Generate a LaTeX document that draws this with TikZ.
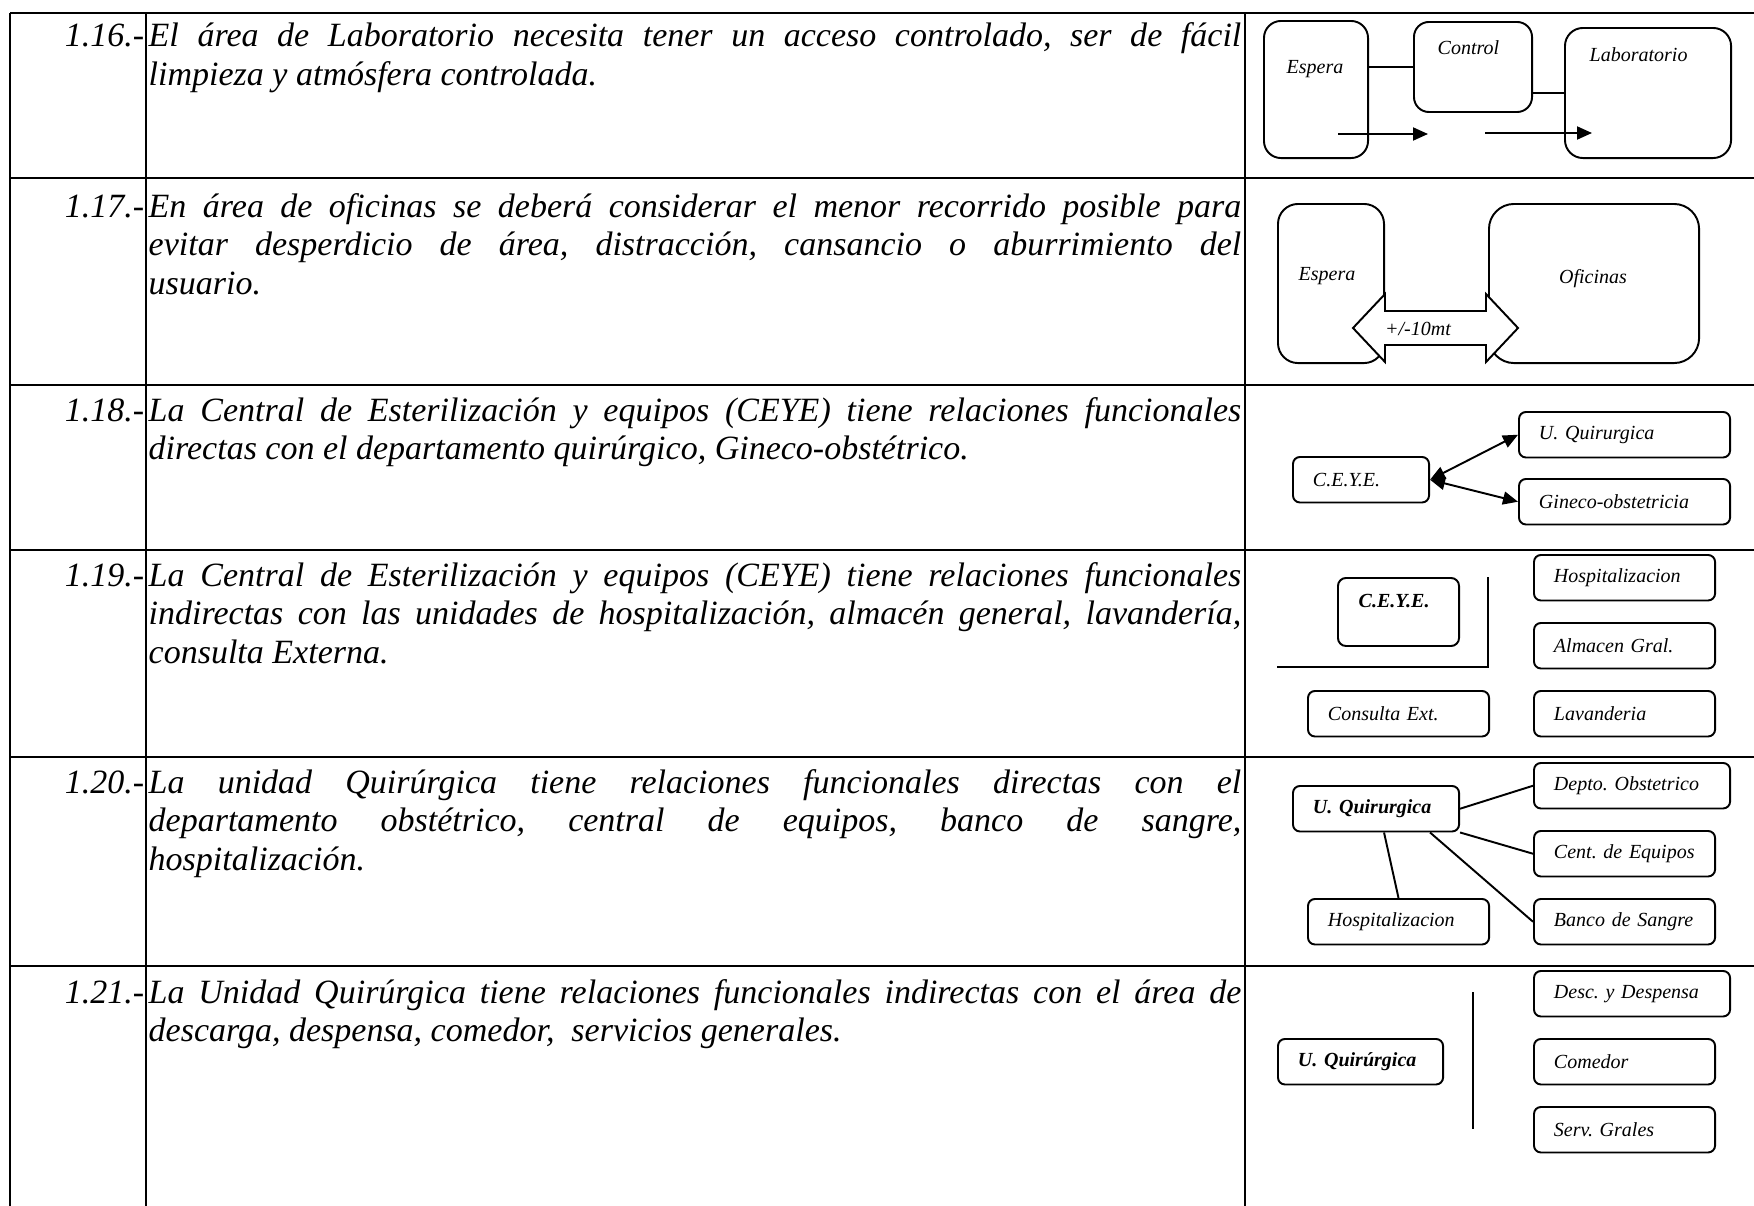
\documentclass[tikz,border=0pt]{standalone}
\usepackage{fontspec}
\setmainfont{Liberation Serif}
\usetikzlibrary{arrows.meta}

\frenchspacing
\hyphenpenalty=10000
\exhyphenpenalty=10000
\hbadness=10000

\tikzset{
  grid/.style={line width=0.8pt},
  rowtext/.style={anchor=base west, text width=10.92cm, align=justify, inner sep=0pt,
    font=\fontsize{9.67}{11.03}\selectfont\itshape},
  rownum/.style={anchor=base east, inner sep=0pt, font=\fontsize{9.67}{11.03}\selectfont\itshape},
  area/.style={draw, line width=0.55pt, rounded corners=2pt, anchor=north west,
    minimum height=0.455cm, inner xsep=0.2cm, inner ysep=0pt, align=left,
    font=\fontsize{5.69}{6.8}\selectfont\itshape},
  areab/.style={area, font=\fontsize{5.69}{6.8}\selectfont\bfseries\itshape},
  room/.style={draw, line width=0.55pt, anchor=north west, inner sep=0pt},
  tag/.style={inner sep=0pt, font=\fontsize{5.69}{6.8}\selectfont\itshape},
  tagb/.style={tag, font=\fontsize{5.69}{6.8}\selectfont\bfseries\itshape},
  link/.style={line width=0.55pt},
  flow/.style={link, -{Triangle[length=0.15cm,width=0.13cm]}},
  both/.style={link, {Triangle[length=0.15cm,width=0.13cm]}-{Triangle[length=0.15cm,width=0.13cm]}},
}

\begin{document}
\begin{tikzpicture}[x=0.01cm, y=-0.01cm]
\useasboundingbox (0,0) rectangle (1754,1206);

% Table lines
\foreach \y in {13,178,385,550,757,966}
  \draw[grid] (10,\y) -- (1754,\y);
\foreach \x in {10,146,1245}
  \draw[grid] (\x,13) -- (\x,1206);

% Row 1.16
\node[rownum] (n16) at (145,47) {1.16.-};
\node[rowtext] (t16) at (148,47) {El área de Laboratorio necesita tener un acceso controlado, ser de fácil\linebreak limpieza y atmósfera controlada.};
\node[room, minimum width=1.04cm, minimum height=1.37cm, rounded corners=0.17cm] (espA) at (1263,20) {};
\node[tag, anchor=west] (espAt) at (1286,69) {Espera};
\node[room, minimum width=1.18cm, minimum height=0.90cm, rounded corners=0.15cm] (ctrl) at (1413,21) {};
\node[tag, anchor=west] (ctrlt) at (1437,48) {Control};
\node[room, minimum width=1.66cm, minimum height=1.30cm, rounded corners=0.18cm] (lab) at (1564,27) {};
\node[tag, anchor=west] (labt) at (1589,55) {Laboratorio};
\draw[link] (espA.east |- ctrl.west) -- (ctrl.west);
\draw[link] (ctrl.east |- lab.west) -- (lab.west);
\coordinate (in1) at (1338,134);
\coordinate (in2) at (1428,134);
\coordinate (in3) at (1485,133);
\coordinate (in4) at (1592,133);
\draw[flow] (in1) -- (in2);
\draw[flow] (in3) -- (in4);

% Row 1.17
\node[rownum] (n17) at (145,217) {1.17.-};
\node[rowtext] (t17) at (148,217) {En área de oficinas se deberá considerar el menor recorrido posible para\linebreak evitar desperdicio de área, distracción, cansancio o aburrimiento del\linebreak usuario.};
\node[room, minimum width=1.06cm, minimum height=1.59cm, rounded corners=0.2cm] (espB) at (1277,203) {};
\node[tag] (espBt) at (1327,276) {Espera};
\node[room, minimum width=2.10cm, minimum height=1.59cm, rounded corners=0.25cm] (ofi) at (1488,203) {};
\node[tag] (ofit) at (1593,279) {Oficinas};
\draw[link, fill=white] (1353,328) -- (1385,294) -- (1385,311) -- (1486,311) -- (1486,294)
  -- (1518,328) -- (1486,362) -- (1486,345) -- (1385,345) -- (1385,362) -- cycle;
\node[tag] (dist) at (1418,329) {+/-10mt};

% Row 1.18
\node[rownum] (n18) at (145,421) {1.18.-};
\node[rowtext] (t18) at (148,421) {La Central de Esterilización y equipos (CEYE) tiene relaciones funcionales\linebreak directas con el departamento quirúrgico, Gineco-obstétrico.};
\node[area, text width=0.96cm] (ceyeA) at (1292,456) {C.E.Y.E.};
\node[area, text width=1.71cm] (uqA) at (1518,411) {U. Quirurgica};
\node[area, text width=1.71cm] (gin) at (1518,478) {Gineco-obstetricia};
\draw[both] (ceyeA.east) -- (uqA.west);
\draw[both] (ceyeA.east) -- (gin.west);

% Row 1.19
\node[rownum] (n19) at (145,586) {1.19.-};
\node[rowtext] (t19) at (148,586) {La Central de Esterilización y equipos (CEYE) tiene relaciones funcionales\linebreak indirectas con las unidades de hospitalización, almacén general, lavandería,\linebreak consulta Externa.};
\node[room, minimum width=1.21cm, minimum height=0.68cm, rounded corners=0.08cm] (ceyeB) at (1337,577) {};
\node[tagb, anchor=west] (ceyeBt) at (1358,601) {C.E.Y.E.};
\draw[link] (1488,577) -- (1488,667) -- (1277,667);
\node[area, text width=1.41cm] (hosB) at (1533,554) {Hospitalizacion};
\node[area, text width=1.41cm] (alm) at (1533,622) {Almacen Gral.};
\node[area, text width=1.41cm] (lav) at (1533,690) {Lavanderia};
\node[area, text width=1.41cm] (cons) at (1307,690) {Consulta Ext.};

% Row 1.20
\node[rownum] (n20) at (145,793) {1.20.-};
\node[rowtext] (t20) at (148,793) {La unidad Quirúrgica tiene relaciones funcionales directas con el\linebreak departamento obstétrico, central de equipos, banco de sangre,\linebreak hospitalización.};
\node[areab, text width=1.26cm] (uqB) at (1292,785) {U. Quirurgica};
\node[area, text width=1.56cm] (dep) at (1533,762) {Depto. Obstetrico};
\node[area, text width=1.41cm] (cen) at (1533,830) {Cent. de Equipos};
\node[area, text width=1.41cm] (ban) at (1533,898) {Banco de Sangre};
\node[area, text width=1.41cm] (hosC) at (1307,898) {Hospitalizacion};
\draw[link] (uqB.east) -- (dep.west);
\draw[link] (uqB.south east) -- (cen.west);
\draw[link] ([xshift=-0.3cm]uqB.south east) -- (ban.west);
\draw[link] ([xshift=0.08cm]uqB.south) -- (hosC.north);

% Row 1.21
\node[rownum] (n21) at (145,1003) {1.21.-};
\node[rowtext] (t21) at (148,1003) {La Unidad Quirúrgica tiene relaciones funcionales indirectas con el área de\linebreak descarga, despensa, comedor,~ servicios generales.};
\node[areab, text width=1.25cm] (uqC) at (1277,1038) {U. Quirúrgica};
\draw[link] (1473,992) -- (1473,1129);
\node[area, text width=1.56cm] (desc) at (1533,970) {Desc. y Despensa};
\node[area, text width=1.41cm] (com) at (1533,1038) {Comedor};
\node[area, text width=1.41cm] (serv) at (1533,1106) {Serv. Grales};
\end{tikzpicture}
\end{document}
